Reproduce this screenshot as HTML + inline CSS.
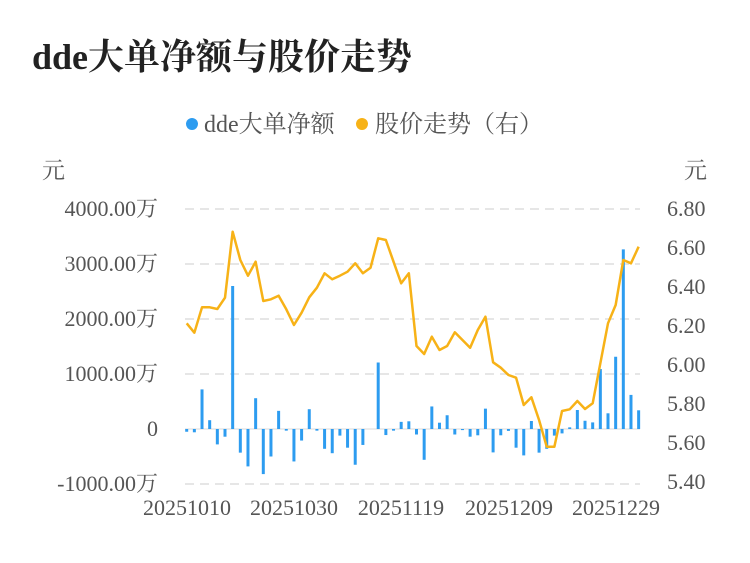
<!DOCTYPE html>
<html><head><meta charset="utf-8"><style>
body{margin:0;background:#fff}
svg text{font-family:"Liberation Serif","Noto Serif CJK SC","Noto Sans CJK SC",serif}
</style></head><body>
<svg width="750" height="558" xmlns="http://www.w3.org/2000/svg">
<text x="32" y="69" font-size="36" font-weight="bold" fill="#222">dde大单净额与股价走势</text>
<circle cx="192" cy="124" r="6" fill="#2d9cf0"/>
<text x="204" y="132" font-size="24" fill="#555">dde大单净额</text>
<circle cx="362" cy="124" r="6" fill="#f7b217"/>
<text x="375" y="132" font-size="24" fill="#555">股价走势（右）</text>
<text x="42" y="178" font-size="23" fill="#555">元</text>
<text x="684" y="178" font-size="23" fill="#555">元</text>
<g stroke="#e6e6e6" stroke-width="2" stroke-dasharray="9,6">
<line x1="185" x2="640" y1="209" y2="209"/><line x1="185" x2="640" y1="264" y2="264"/>
<line x1="185" x2="640" y1="319" y2="319"/><line x1="185" x2="640" y1="374" y2="374"/>
<line x1="185" x2="640" y1="484" y2="484"/>
</g>
<line x1="185" x2="640" y1="429" y2="429" stroke="#e6e6e6" stroke-width="1.5"/>
<g font-size="22" fill="#555" text-anchor="end">
<text x="158" y="216">4000.00万</text><text x="158" y="271">3000.00万</text>
<text x="158" y="326">2000.00万</text><text x="158" y="381">1000.00万</text>
<text x="158" y="436">0</text><text x="158" y="491">-1000.00万</text>
</g>
<g font-size="22" fill="#555">
<text x="667" y="216">6.80</text><text x="667" y="255">6.60</text><text x="667" y="294">6.40</text>
<text x="667" y="333">6.20</text><text x="667" y="372">6.00</text><text x="667" y="411">5.80</text>
<text x="667" y="450">5.60</text><text x="667" y="489">5.40</text>
</g>
<g font-size="22" fill="#555" text-anchor="middle">
<text x="187" y="515">20251010</text><text x="294" y="515">20251030</text>
<text x="401" y="515">20251119</text><text x="509" y="515">20251209</text>
<text x="616" y="515">20251229</text>
</g>
<g stroke="#2d9cf0" stroke-width="3">
<line x1="186.7" x2="186.7" y1="429" y2="431.75"/>
<line x1="194.36" x2="194.36" y1="429" y2="432.3"/>
<line x1="202.02" x2="202.02" y1="429" y2="389.4"/>
<line x1="209.68" x2="209.68" y1="429" y2="420.2"/>
<line x1="217.34" x2="217.34" y1="429" y2="444.4"/>
<line x1="225" x2="225" y1="429" y2="436.7"/>
<line x1="232.66" x2="232.66" y1="429" y2="286"/>
<line x1="240.32" x2="240.32" y1="429" y2="452.65"/>
<line x1="247.98" x2="247.98" y1="429" y2="466.4"/>
<line x1="255.64" x2="255.64" y1="429" y2="398.2"/>
<line x1="263.3" x2="263.3" y1="429" y2="474.1"/>
<line x1="270.96" x2="270.96" y1="429" y2="456.5"/>
<line x1="278.62" x2="278.62" y1="429" y2="410.85"/>
<line x1="286.28" x2="286.28" y1="429" y2="430.65"/>
<line x1="293.94" x2="293.94" y1="429" y2="461.45"/>
<line x1="301.6" x2="301.6" y1="429" y2="440.55"/>
<line x1="309.26" x2="309.26" y1="429" y2="409.2"/>
<line x1="316.92" x2="316.92" y1="429" y2="430.65"/>
<line x1="324.58" x2="324.58" y1="429" y2="448.8"/>
<line x1="332.24" x2="332.24" y1="429" y2="453.2"/>
<line x1="339.9" x2="339.9" y1="429" y2="435.6"/>
<line x1="347.56" x2="347.56" y1="429" y2="447.7"/>
<line x1="355.22" x2="355.22" y1="429" y2="464.75"/>
<line x1="362.88" x2="362.88" y1="429" y2="444.95"/>
<line x1="378.2" x2="378.2" y1="429" y2="362.45"/>
<line x1="385.86" x2="385.86" y1="429" y2="435.05"/>
<line x1="393.52" x2="393.52" y1="429" y2="430.65"/>
<line x1="401.18" x2="401.18" y1="429" y2="421.85"/>
<line x1="408.84" x2="408.84" y1="429" y2="421.3"/>
<line x1="416.5" x2="416.5" y1="429" y2="434.5"/>
<line x1="424.16" x2="424.16" y1="429" y2="459.8"/>
<line x1="431.82" x2="431.82" y1="429" y2="406.45"/>
<line x1="439.48" x2="439.48" y1="429" y2="422.7"/>
<line x1="447.14" x2="447.14" y1="429" y2="415.25"/>
<line x1="454.8" x2="454.8" y1="429" y2="434.5"/>
<line x1="462.46" x2="462.46" y1="429" y2="430.1"/>
<line x1="470.12" x2="470.12" y1="429" y2="436.7"/>
<line x1="477.78" x2="477.78" y1="429" y2="435.3"/>
<line x1="485.44" x2="485.44" y1="429" y2="408.65"/>
<line x1="493.1" x2="493.1" y1="429" y2="452.4"/>
<line x1="500.76" x2="500.76" y1="429" y2="435.3"/>
<line x1="508.42" x2="508.42" y1="429" y2="430.9"/>
<line x1="516.08" x2="516.08" y1="429" y2="447.7"/>
<line x1="523.74" x2="523.74" y1="429" y2="455.4"/>
<line x1="531.4" x2="531.4" y1="429" y2="421"/>
<line x1="539.06" x2="539.06" y1="429" y2="452.65"/>
<line x1="546.72" x2="546.72" y1="429" y2="448.8"/>
<line x1="554.38" x2="554.38" y1="429" y2="435.6"/>
<line x1="562.04" x2="562.04" y1="429" y2="433.4"/>
<line x1="569.7" x2="569.7" y1="429" y2="427.35"/>
<line x1="577.36" x2="577.36" y1="429" y2="410"/>
<line x1="585.02" x2="585.02" y1="429" y2="420.75"/>
<line x1="592.68" x2="592.68" y1="429" y2="422.4"/>
<line x1="600.34" x2="600.34" y1="429" y2="369.05"/>
<line x1="608" x2="608" y1="429" y2="413.3"/>
<line x1="615.66" x2="615.66" y1="429" y2="356.7"/>
<line x1="623.32" x2="623.32" y1="429" y2="249.4"/>
<line x1="630.98" x2="630.98" y1="429" y2="394.9"/>
<line x1="638.64" x2="638.64" y1="429" y2="410.3"/>
</g>
<polyline fill="none" stroke="#f7b217" stroke-width="2.5" stroke-linejoin="round" points="186.7,323.3 194.36,332.7 202.02,307.3 209.68,307.3 217.34,309 225,297.7 232.66,231.7 240.32,260 247.98,275.7 255.64,261.7 263.3,301 270.96,299.3 278.62,295.7 286.28,309.3 293.94,325 301.6,312.7 309.26,297.3 316.92,287.7 324.58,273.3 332.24,279.3 339.9,275.7 347.56,271.7 355.22,263.3 362.88,273.3 370.54,267.7 378.2,238.3 385.86,240 393.52,261.7 401.18,283.3 408.84,273.3 416.5,346 424.16,354 431.82,336.7 439.48,350 447.14,346 454.8,332.3 462.46,340 470.12,347.7 477.78,330 485.44,316.7 493.1,362.3 500.76,367.7 508.42,375 516.08,377.7 523.74,405 531.4,397.3 539.06,420 546.72,446.7 554.38,446.7 562.04,411 569.7,409.3 577.36,401 585.02,409 592.68,403.3 600.34,363.3 608,323.3 615.66,305 623.32,260 630.98,263.3 638.64,246.7"/>
</svg>
</body></html>
